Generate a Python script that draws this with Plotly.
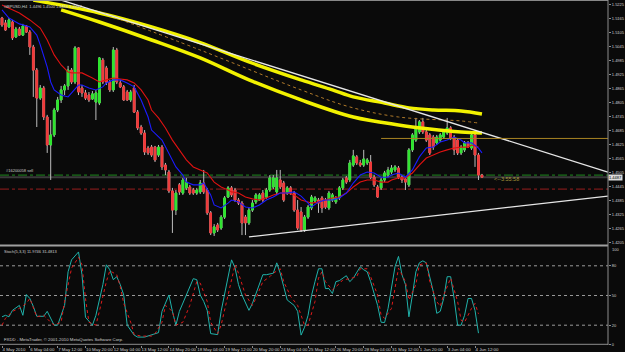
import plotly.graph_objects as go

# ---------------- data (GBPUSD, H4) ----------------
opens = [
1.5169, 1.5148, 1.5131, 1.5152, 1.5088, 1.5122, 1.5096, 1.5135, 1.5109, 1.5045,
1.4946, 1.4826, 1.4869, 1.4745, 1.4625, 1.4668, 1.4775, 1.4818, 1.4861, 1.4878,
1.4946, 1.4895, 1.5041, 1.4869, 1.4848, 1.4839, 1.4822, 1.4809, 1.4805, 1.4989,
1.4955, 1.4895, 1.4861, 1.5032, 1.4891, 1.4874, 1.4852, 1.4818, 1.4869, 1.4766,
1.4702, 1.4676, 1.4612, 1.4616, 1.4616, 1.4582, 1.4616, 1.4539, 1.4509, 1.4428,
1.4346, 1.4454, 1.4419, 1.4441, 1.4445, 1.4432, 1.4419, 1.4424, 1.4462, 1.4432, 1.4334,
1.4248, 1.4282, 1.4269, 1.4316, 1.4402, 1.4441, 1.4432, 1.4389, 1.4376, 1.4316,
1.4291, 1.4346, 1.4381, 1.4389, 1.4419, 1.4402, 1.4432, 1.4445, 1.4424, 1.4475,
1.4462, 1.4419, 1.4441, 1.4419, 1.4346, 1.4338, 1.4261, 1.4316, 1.4355, 1.4385,
1.4389, 1.4398, 1.4389, 1.4355, 1.4389, 1.4381, 1.4398, 1.4441, 1.4484, 1.4475,
1.4539, 1.4574, 1.4548, 1.4539, 1.4548, 1.4552, 1.4487, 1.4445, 1.4441, 1.4475,
1.4496, 1.4509, 1.4518, 1.4526, 1.4487, 1.4479, 1.4454, 1.4604, 1.4646, 1.4681,
1.4724, 1.4681, 1.4668, 1.4659, 1.4634, 1.4646, 1.4659, 1.4676, 1.4698, 1.4659,
1.4646, 1.4591, 1.4604, 1.4634, 1.4612, 1.4668, 1.4582, 1.4496]
highs = [
1.5174, 1.5161, 1.5169, 1.5161, 1.5131, 1.5131, 1.5144, 1.5139, 1.5118, 1.5054,
1.4955, 1.4882, 1.4878, 1.4754, 1.4732, 1.4784, 1.4831, 1.4878, 1.4886, 1.4964,
1.4955, 1.5049, 1.5045, 1.4882, 1.4861, 1.4852, 1.4856, 1.4861, 1.5002, 1.4998,
1.4964, 1.4904, 1.5045, 1.5041, 1.4904, 1.4882, 1.4861, 1.4861, 1.4882, 1.4775,
1.4711, 1.4689, 1.4621, 1.4625, 1.4621, 1.4625, 1.4625, 1.4548, 1.4518, 1.4441,
1.4432, 1.4462, 1.4484, 1.4484, 1.4454, 1.4441, 1.4441, 1.4475, 1.4518, 1.4441, 1.4342,
1.4286, 1.4291, 1.4325, 1.4406, 1.4449, 1.4449, 1.4441, 1.4398, 1.4385, 1.4325,
1.4355, 1.4389, 1.4419, 1.4419, 1.4432, 1.4441, 1.4496, 1.4496, 1.4518, 1.4518,
1.4471, 1.4449, 1.4449, 1.4428, 1.4389, 1.4359, 1.4325, 1.4368, 1.4411, 1.4406,
1.4398, 1.4406, 1.4398, 1.4428, 1.4419, 1.4406, 1.4449, 1.4484, 1.4492, 1.4561,
1.4604, 1.4582, 1.4561, 1.4604, 1.4569, 1.4582, 1.4496, 1.4454, 1.4484, 1.4514,
1.4531, 1.4539, 1.4539, 1.4535, 1.4496, 1.4487, 1.4612, 1.4676, 1.4741, 1.4732,
1.4741, 1.4689, 1.4676, 1.4668, 1.4668, 1.4676, 1.4689, 1.4741, 1.4706, 1.4668,
1.4655, 1.4625, 1.4642, 1.4642, 1.4676, 1.4676, 1.4591, 1.4501]
lows = [
1.5131, 1.5114, 1.5126, 1.5075, 1.5084, 1.5092, 1.5092, 1.5105, 1.5011, 1.4831,
1.4702, 1.4818, 1.4732, 1.4591, 1.4475, 1.4659, 1.4766, 1.4805, 1.4839, 1.4861,
1.4886, 1.4886, 1.4839, 1.4831, 1.4818, 1.4809, 1.4818, 1.4732, 1.4796, 1.4886,
1.4882, 1.4852, 1.4852, 1.4886, 1.4869, 1.4814, 1.4814, 1.4809, 1.4762, 1.4689,
1.4668, 1.4582, 1.4582, 1.4574, 1.4552, 1.4574, 1.4518, 1.4496, 1.4419, 1.4248,
1.4325, 1.4411, 1.4411, 1.4432, 1.4411, 1.4411, 1.4411, 1.4415, 1.4415, 1.4325, 1.4239,
1.4235, 1.4252, 1.4261, 1.4308, 1.4398, 1.4402, 1.4381, 1.4368, 1.4239, 1.4239,
1.4282, 1.4338, 1.4372, 1.4385, 1.4381, 1.4394, 1.4424, 1.4436, 1.4411, 1.4436,
1.4381, 1.4411, 1.4411, 1.4338, 1.4261, 1.4252, 1.4252, 1.4308, 1.4346, 1.4376,
1.4334, 1.4334, 1.4351, 1.4346, 1.4381, 1.4372, 1.4389, 1.4432, 1.4458, 1.4466,
1.4531, 1.4539, 1.4531, 1.4531, 1.4539, 1.4479, 1.4445, 1.4398, 1.4432, 1.4466,
1.4487, 1.4501, 1.4509, 1.4479, 1.4462, 1.4432, 1.4445, 1.4595, 1.4638, 1.4672,
1.4672, 1.4638, 1.4582, 1.4604, 1.4625, 1.4638, 1.4651, 1.4668, 1.4646, 1.4582,
1.4582, 1.4582, 1.4595, 1.4612, 1.4604, 1.4531, 1.4475, 1.4487]
closes = [
1.5139, 1.5118, 1.5161, 1.5084, 1.5122, 1.5096, 1.5135, 1.5109, 1.5045, 1.4946,
1.4826, 1.4869, 1.4745, 1.4625, 1.4668, 1.4775, 1.4818, 1.4861, 1.4878, 1.4946,
1.4895, 1.5041, 1.4852, 1.4848, 1.4826, 1.4818, 1.4844, 1.4848, 1.4998, 1.4895,
1.4895, 1.4861, 1.5032, 1.4895, 1.4874, 1.4818, 1.4818, 1.4852, 1.4766, 1.4698,
1.4676, 1.4595, 1.4591, 1.4582, 1.4561, 1.4616, 1.4531, 1.4518, 1.4428, 1.4346,
1.4419, 1.4424, 1.4475, 1.4466, 1.4419, 1.4419, 1.4432, 1.4462, 1.4424, 1.4334, 1.4248,
1.4274, 1.4261, 1.4316, 1.4398, 1.4441, 1.4411, 1.4389, 1.4376, 1.4291, 1.4291,
1.4346, 1.4376, 1.4411, 1.4411, 1.4389, 1.4432, 1.4484, 1.4484, 1.4484, 1.4445,
1.4389, 1.4441, 1.4419, 1.4346, 1.4269, 1.4261, 1.4316, 1.4359, 1.4402, 1.4398,
1.4376, 1.4355, 1.4359, 1.4419, 1.4411, 1.4398, 1.4441, 1.4475, 1.4466, 1.4548,
1.4578, 1.4548, 1.4539, 1.4565, 1.4561, 1.4487, 1.4454, 1.4402, 1.4475, 1.4505,
1.4518, 1.4526, 1.4531, 1.4487, 1.4475, 1.4466, 1.4604, 1.4668, 1.4702, 1.4724,
1.4681, 1.4646, 1.4591, 1.4616, 1.4659, 1.4668, 1.4681, 1.4698, 1.4655, 1.4604,
1.4591, 1.4616, 1.4634, 1.4616, 1.4668, 1.4582, 1.4496, 1.4487]
bars = list(range(len(closes)))

# fast (blue) and slow (red) moving averages, read at bar positions
ma_fast_x = [0, 2, 5, 8, 10, 11, 13, 14, 15, 17, 19, 20, 22, 23, 25, 27, 29, 30, 32, 34, 36, 38, 40, 42, 43, 46, 48, 50, 52, 53, 55, 57, 58, 60, 61, 63, 65, 66, 68, 70, 72, 74, 76, 78, 80, 82, 84, 86, 88, 89, 91, 93, 95, 97, 99, 101, 103, 105, 107, 109, 111, 112, 114, 116, 118, 120, 122, 124, 126, 128, 130, 132, 133, 135, 137, 138]
ma_fast = [1.5204, 1.5169, 1.5144, 1.5131, 1.5096, 1.5054, 1.4959, 1.4895, 1.4861, 1.4839, 1.4831, 1.4848, 1.4882, 1.4882, 1.4869, 1.4861, 1.4874, 1.4891, 1.4904, 1.4904, 1.4891, 1.4874, 1.4818, 1.4745, 1.4689, 1.4646, 1.4591, 1.4531, 1.4496, 1.4466, 1.4454, 1.4454, 1.4462, 1.4411, 1.4368, 1.4355, 1.4376, 1.4389, 1.4381, 1.4359, 1.4355, 1.4368, 1.4389, 1.4402, 1.4419, 1.4419, 1.4424, 1.4406, 1.4376, 1.4359, 1.4381, 1.4389, 1.4389, 1.4398, 1.4419, 1.4462, 1.4496, 1.4509, 1.4505, 1.4487, 1.4487, 1.4496, 1.4505, 1.4487, 1.4518, 1.4574, 1.4612, 1.4616, 1.4638, 1.4646, 1.4659, 1.4646, 1.4634, 1.4634, 1.4612, 1.4591]
ma_slow_x = [0, 2, 5, 8, 11, 13, 15, 17, 19, 20, 23, 26, 28, 30, 32, 34, 36, 38, 40, 42, 43, 45, 47, 49, 51, 53, 55, 57, 59, 61, 63, 65, 66, 68, 70, 72, 74, 76, 78, 80, 82, 84, 86, 88, 89, 91, 93, 95, 97, 99, 101, 103, 105, 107, 109, 111, 112, 114, 116, 118, 120, 122, 124, 126, 128, 130, 132, 134, 135, 137]
ma_slow = [1.5225, 1.5212, 1.5191, 1.5161, 1.5126, 1.5075, 1.5011, 1.4968, 1.4938, 1.4934, 1.4934, 1.4912, 1.4895, 1.4904, 1.4912, 1.4908, 1.4904, 1.4891, 1.4861, 1.4818, 1.4775, 1.4741, 1.4698, 1.4646, 1.4604, 1.4561, 1.4531, 1.4518, 1.4505, 1.4466, 1.4445, 1.4432, 1.4424, 1.4419, 1.4402, 1.4394, 1.4389, 1.4398, 1.4411, 1.4419, 1.4419, 1.4411, 1.4389, 1.4381, 1.4376, 1.4381, 1.4389, 1.4398, 1.4402, 1.4419, 1.4445, 1.4466, 1.4475, 1.4475, 1.4466, 1.4466, 1.4475, 1.4484, 1.4484, 1.4505, 1.4539, 1.4569, 1.4582, 1.4595, 1.4604, 1.4612, 1.4616, 1.4616, 1.4625, 1.4616]

# long moving averages (yellow) and dotted average
ma_long1_x = [9, 28, 43, 57, 71, 86, 95, 101, 110, 117, 124, 132, 138]
ma_long1 = [1.5246, 1.5191, 1.5131, 1.5064, 1.4981, 1.4904, 1.4861, 1.4831, 1.4805, 1.4784, 1.4775, 1.4771, 1.4758]
ma_long2_x = [17, 28, 43, 57, 71, 86, 101, 114, 123, 132, 138]
ma_long2 = [1.5204, 1.5152, 1.5075, 1.4998, 1.4904, 1.4818, 1.4745, 1.4711, 1.4694, 1.4681, 1.4676]
ma_dot_x = [29, 57, 86, 100, 114, 132, 137]
ma_dot = [1.5191, 1.5032, 1.4861, 1.4788, 1.4745, 1.4728, 1.4719]

# trend lines
trend_hi_x = [17, 174.2]
trend_hi_y = [1.5246, 1.4509]
trend_lo_x = [71, 174.2]
trend_lo_y = [1.4231, 1.4406]
level_gold = 1.4653
level_gold_from = 109
order_price = 1.4496
stop_price = 1.4436
bid_price = 1.4487

# stochastic (5,3,3)
stoch_main_x = [0, 1, 2, 3, 5, 6, 7, 8, 9, 10, 12, 13, 15, 16, 18, 19, 20, 22, 23, 24, 26, 27, 29, 30, 31, 32, 33, 34, 35, 36, 38, 39, 41, 43, 45, 46, 48, 49, 50, 51, 53, 55, 56, 57, 58, 59, 60, 62, 63, 65, 66, 67, 68, 69, 71, 72, 74, 75, 76, 78, 79, 80, 81, 82, 84, 85, 86, 87, 88, 89, 90, 91, 92, 93, 94, 95, 96, 97, 99, 100, 101, 102, 103, 104, 105, 106, 108, 109, 110, 111, 112, 113, 114, 115, 116, 117, 118, 119, 120, 121, 122, 123, 124, 125, 126, 127, 128, 129, 130, 131, 132, 133, 134, 135, 136, 137]
stoch_main = [28.5, 30, 28.5, 35, 40, 30, 51, 47, 39, 29, 29, 34, 20, 20, 40, 74, 86, 94, 71, 28, 20, 30, 61, 81, 76, 66, 69, 61, 50.5, 20, 10, 8, 8, 10, 12.5, 34, 50.5, 34, 20, 34, 50.5, 67, 66, 50.5, 44, 35, 11.5, 10.5, 34, 71, 86, 78, 61, 50.5, 35, 42, 61, 71, 71, 72.5, 83, 72.5, 59, 45.5, 40, 34, 10, 18, 30, 50, 64, 77, 77, 57, 57, 52, 64, 65, 70, 64, 67.5, 74, 79, 76, 74, 64, 40, 23, 22.7, 37, 57, 79, 89.5, 71, 61, 28.5, 50.5, 74, 83, 85, 83, 67.5, 54, 32, 34, 47, 69, 69, 47, 20, 20, 30, 47, 47, 35, 11.97]
stoch_sig_x = [0, 1, 3, 5, 7, 8, 10, 12, 14, 15, 17, 18, 20, 22, 23, 24, 25, 27, 28, 30, 31, 33, 34, 35, 37, 38, 40, 43, 44, 46, 47, 49, 50, 52, 54, 56, 57, 59, 60, 62, 63, 65, 67, 68, 70, 72, 73, 75, 77, 78, 80, 81, 83, 85, 87, 88, 90, 91, 92, 93, 95, 97, 98, 100, 102, 103, 105, 106, 108, 109, 110, 112, 113, 114, 116, 117, 119, 120, 122, 123, 125, 126, 127, 129, 131, 132, 133, 135, 136, 137]
stoch_sig = [20, 27, 34, 37, 42, 47, 28.5, 30, 23, 20, 23, 44, 77.6, 88.5, 81, 47, 23, 20, 34, 64, 75, 71, 59, 42, 23, 10.5, 9, 9, 11.5, 23, 40, 34, 20, 23, 40, 64, 62.5, 44, 23, 11.5, 20, 50.5, 81, 72.5, 50.5, 40, 47, 64, 69, 72.5, 77, 64, 49, 40, 20, 20, 44, 67.5, 74, 64, 55.6, 62, 65.8, 67, 69, 77, 77, 69, 50.5, 30, 27, 37, 57, 77.6, 64, 45.5, 61, 81, 83, 64, 44, 39, 50.5, 67.5, 44, 25, 23, 37, 42, 31.48]
stoch_levels = [20, 50, 80]
stoch_ticks = [0, 20, 50, 80]

# axis labels
price_ticks = [1.4205, 1.4265, 1.4325, 1.4385, 1.4445, 1.4505, 1.4565, 1.4625, 1.4685, 1.4745,
               1.4805, 1.4865, 1.4925, 1.4985, 1.5045, 1.5105, 1.5165, 1.5225]
date_tick_bars = [0, 8, 16, 24, 32, 40, 48, 56, 64, 72, 80, 88, 96, 104, 112, 120, 128, 136]
date_labels = ["4 May 2010", "6 May 04:00", "7 May 12:00", "10 May 20:00", "12 May 04:00",
               "13 May 12:00", "14 May 20:00", "18 May 04:00", "19 May 12:00", "20 May 20:00",
               "24 May 04:00", "25 May 12:00", "26 May 20:00", "28 May 04:00", "31 May 12:00",
               "1 Jun 20:00", "3 Jun 04:00", "4 Jun 12:00"]

# ---------------- styling ----------------
BG = "#0a0a0a"
FG = "#cfcfcf"
BULL = "#2ee62e"
BEAR = "#f03a3a"
WICK = "#bdbdbd"
FONT = "Liberation Sans"
X_RANGE = [-0.575, 174.24]
P_RANGE = [1.41964, 1.52464]
AXF = 4.0

fig = go.Figure()

# wicks
fig.add_trace(go.Candlestick(
    x=bars, open=opens, high=highs, low=lows, close=closes,
    increasing=dict(line=dict(color=WICK, width=1), fillcolor=BULL),
    decreasing=dict(line=dict(color=WICK, width=1), fillcolor=BEAR),
    whiskerwidth=0, showlegend=False, hoverinfo="skip", xaxis="x", yaxis="y"))
# bodies
body_hi = [max(o, c) for o, c in zip(opens, closes)]
body_lo = [min(o, c) for o, c in zip(opens, closes)]
fig.add_trace(go.Candlestick(
    x=bars, open=opens, high=body_hi, low=body_lo, close=closes,
    increasing=dict(line=dict(color=BULL, width=1), fillcolor=BULL),
    decreasing=dict(line=dict(color=BEAR, width=1), fillcolor=BEAR),
    whiskerwidth=0, showlegend=False, hoverinfo="skip", xaxis="x", yaxis="y"))

def line(x, y, color, width, dash="solid", shape="linear", xa="x", ya="y"):
    fig.add_trace(go.Scatter(x=x, y=y, mode="lines", line=dict(color=color, width=width, dash=dash, shape=shape),
                             showlegend=False, hoverinfo="skip", xaxis=xa, yaxis=ya))

line(ma_long1_x, ma_long1, "#f2f200", 3.5, shape="spline")
line(ma_long2_x, ma_long2, "#f2f200", 3.5, shape="spline")
line(ma_dot_x, ma_dot, "#b07a2a", 1, dash="dot", shape="spline")
line(ma_slow_x, ma_slow, "#e01212", 1.1)
line(ma_fast_x, ma_fast, "#1c1cff", 1.1)
line(trend_hi_x, trend_hi_y, "#e6e6e6", 1.3)
line(trend_lo_x, trend_lo_y, "#e6e6e6", 1.3)
line([level_gold_from, X_RANGE[1]], [level_gold, level_gold], "#a88424", 1)

line(stoch_main_x, stoch_main, "#20b2aa", 1, xa="x2", ya="y2")
line(stoch_sig_x, stoch_sig, "#e01a1a", 1, dash="dot", xa="x2", ya="y2")

shapes = []
for lvl, col, dash, w in [(order_price, "#1f8a1f", "dashdot", 1), (stop_price, "#9a1e1e", "dashdot", 1),
                          (bid_price, "#3a3a3a", "solid", 2)]:
    shapes.append(dict(type="line", xref="paper", yref="y", x0=0, x1=1, y0=lvl, y1=lvl,
                       line=dict(color=col, width=w, dash=dash), layer="below"))
for lvl in stoch_levels:
    shapes.append(dict(type="line", xref="paper", yref="y2", x0=0, x1=1, y0=lvl, y1=lvl,
                       line=dict(color="#9a9a9a", width=1, dash="dot"), layer="below"))
# panel frames
GRAY = "#8c8c8c"
shapes += [
    dict(type="line", xref="paper", yref="paper", x0=0, x1=1, y0=0.9986, y1=0.9986, line=dict(color=GRAY, width=1)),
    dict(type="line", xref="paper", yref="paper", x0=0, x1=1, y0=0.2884, y1=0.2884, line=dict(color="#a0a0a0", width=2)),
    dict(type="line", xref="paper", yref="paper", x0=0, x1=1, y0=0.002, y1=0.002, line=dict(color=GRAY, width=1)),
    dict(type="line", xref="paper", yref="paper", x0=1, x1=1, y0=0, y1=1, line=dict(color=GRAY, width=1)),
]

annotations = [
    dict(text="GBPUSD,H4  1.4496 1.4500 1.4484 1.4487", xref="paper", yref="paper", x=0.004, y=0.995,
         xanchor="left", yanchor="top", showarrow=False, font=dict(size=4, color=FG, family=FONT)),
    dict(text="#16200058 sell", xref="paper", yref="y", x=0.006, y=order_price, xanchor="left", yanchor="bottom",
         showarrow=False, font=dict(size=4, color=FG, family=FONT)),
    dict(text="<--3:55:58", xref="x", yref="y", x=140.9, y=1.4479, xanchor="left", yanchor="middle",
         showarrow=False, font=dict(size=5.5, color="#a8983c", family=FONT)),
    dict(text="1.4487", xref="paper", yref="y", x=1.0, y=bid_price, xanchor="left", yanchor="middle",
         showarrow=False, bgcolor="#dcdcdc", borderpad=0, font=dict(size=AXF, color="#000000", family=FONT)),
    dict(text="100", xref="paper", yref="y2", x=1.0, y=96.5, xanchor="left", yanchor="middle", xshift=2,
         showarrow=False, font=dict(size=AXF, color=FG, family=FONT)),
    dict(text="Stoch(5,3,3) 11.9746 31.4813", xref="paper", yref="paper", x=0.004, y=0.283,
         xanchor="left", yanchor="top", showarrow=False, font=dict(size=4, color=FG, family=FONT)),
    dict(text="FXDD - MetaTrader, © 2001-2010 MetaQuotes Software Corp.", xref="paper", yref="paper",
         x=0.004, y=0.0145, xanchor="left", yanchor="middle", showarrow=False,
         font=dict(size=4.3, color=FG, family=FONT)),
]

fig.update_layout(
    width=625, height=352, margin=dict(l=0, r=17, t=0, b=7, autoexpand=False),
    paper_bgcolor=BG, plot_bgcolor=BG, showlegend=False,
    font=dict(family=FONT, size=5, color=FG),
    xaxis=dict(domain=[0, 1], range=X_RANGE, anchor="y", showticklabels=False, showgrid=False,
               zeroline=False, ticks="", rangeslider=dict(visible=False), showline=False, automargin=False),
    yaxis=dict(domain=[0.2899, 1.0], range=P_RANGE, anchor="x", side="right", tickvals=price_ticks,
               ticktext=["%.4f" % v for v in price_ticks], ticks="outside", ticklen=2, tickcolor=GRAY,
               ticklabelstandoff=0,
               tickfont=dict(size=AXF, color=FG, family=FONT), showgrid=False, zeroline=False,
               showline=False, automargin=False),
    xaxis2=dict(domain=[0, 1], range=X_RANGE, anchor="y2", matches="x", tickvals=date_tick_bars,
                ticktext=date_labels, ticks="outside", ticklen=2, tickcolor=GRAY, tickangle=0,
                ticklabelposition="outside right", tickfont=dict(size=4.4, color=FG, family=FONT),
                showgrid=False, zeroline=False, showline=False, automargin=False),
    yaxis2=dict(domain=[0, 0.28696], range=[0, 100], anchor="x2", side="right", tickvals=stoch_ticks,
                ticks="outside", ticklen=2, tickcolor=GRAY, ticklabelstandoff=0,
                tickfont=dict(size=AXF, color=FG, family=FONT),
                showgrid=False, zeroline=False, showline=False, automargin=False),
    shapes=shapes, annotations=annotations,
)

fig.write_html("out.html")
